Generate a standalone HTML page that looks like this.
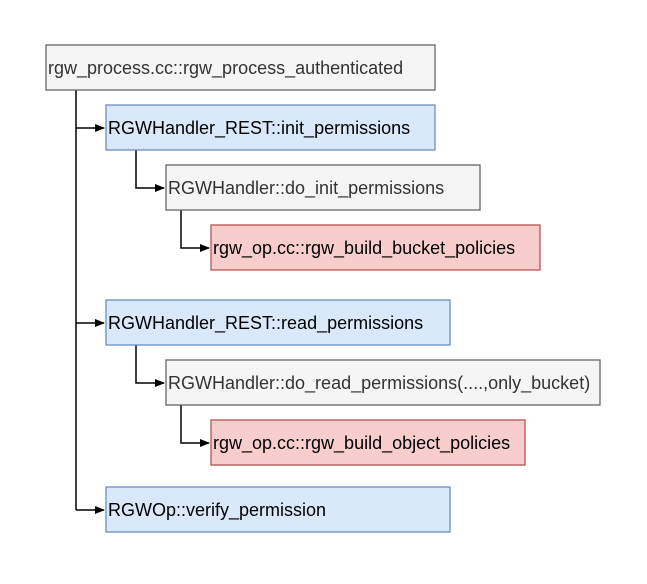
<!DOCTYPE html>
<html><head><style>body{margin:0;background:#fff}</style></head><body>
<svg width="647" height="579" xmlns="http://www.w3.org/2000/svg" font-family="Liberation Sans, Arial, sans-serif" font-size="18">
<defs><marker id="a" markerWidth="10" markerHeight="8" refX="9" refY="4" orient="auto" markerUnits="userSpaceOnUse"><path d="M0,0 L10,4 L0,8 Z" fill="#000"/></marker></defs>
<g stroke="#000" stroke-width="1.5" fill="none">
<path d="M76,90 V510"/>
<path d="M76,128 H104" marker-end="url(#a)"/>
<path d="M76,323 H104" marker-end="url(#a)"/>
<path d="M76,510 H104" marker-end="url(#a)"/>
<path d="M136,150 V188 H164" marker-end="url(#a)"/>
<path d="M181,210 V248 H209" marker-end="url(#a)"/>
<path d="M136,345 V383 H164" marker-end="url(#a)"/>
<path d="M181,405 V443 H209" marker-end="url(#a)"/>
</g>
<g stroke-width="1.3">
<rect x="46" y="45" width="389" height="45" fill="#f5f5f5" stroke="#666"/>
<rect x="106" y="105" width="329" height="45" fill="#dae8fc" stroke="#6c8ebf"/>
<rect x="166" y="165" width="314" height="45" fill="#f5f5f5" stroke="#666"/>
<rect x="211" y="225" width="329" height="45" fill="#f8cecc" stroke="#b85450"/>
<rect x="106" y="300" width="344" height="45" fill="#dae8fc" stroke="#6c8ebf"/>
<rect x="166" y="360" width="434" height="45" fill="#f5f5f5" stroke="#666"/>
<rect x="211" y="420" width="314" height="45" fill="#f8cecc" stroke="#b85450"/>
<rect x="106" y="487" width="344" height="45" fill="#dae8fc" stroke="#6c8ebf"/>
</g>
<text x="48" y="74" fill="#333">rgw_process.cc::rgw_process_authenticated</text>
<text x="108" y="134">RGWHandler_REST::init_permissions</text>
<text x="168" y="194" fill="#333">RGWHandler::do_init_permissions</text>
<text x="213" y="254">rgw_op.cc::rgw_build_bucket_policies</text>
<text x="108" y="329">RGWHandler_REST::read_permissions</text>
<text x="168" y="389" fill="#333">RGWHandler::do_read_permissions(....,only_bucket)</text>
<text x="213" y="449">rgw_op.cc::rgw_build_object_policies</text>
<text x="108" y="516">RGWOp::verify_permission</text>
</svg>
</body></html>
